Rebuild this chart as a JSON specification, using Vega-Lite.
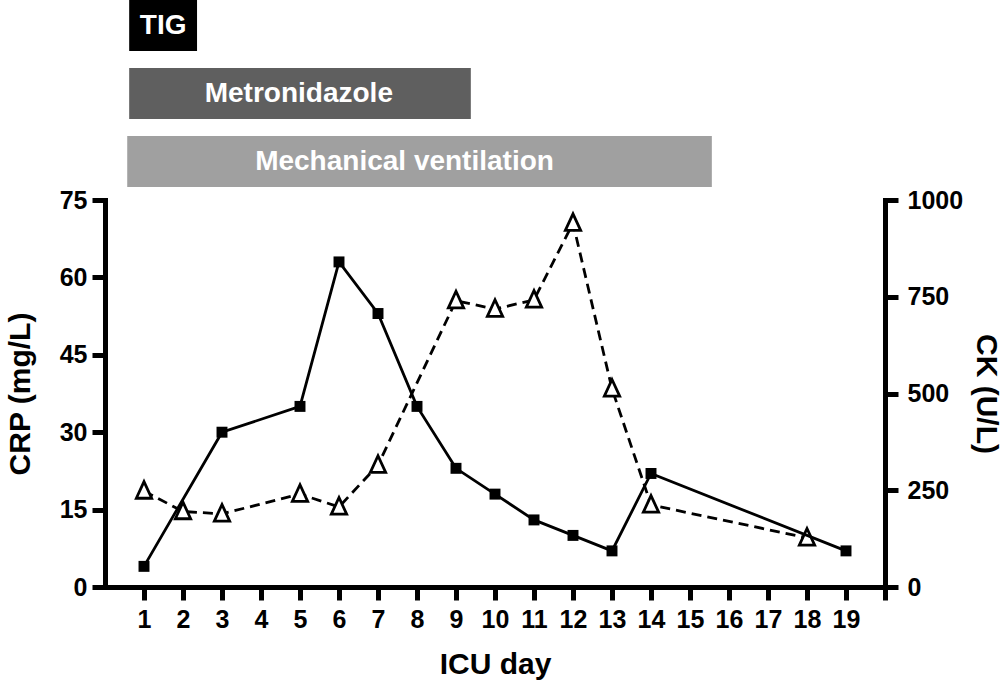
{
  "$schema": "https://vega.github.io/schema/vega-lite/v6.json",
  "background": "white",
  "padding": {"left": 5, "top": 0, "right": 2, "bottom": 2},
  "bounds": "flush",
  "spacing": 13,
  "config": {
    "font": "Liberation Sans",
    "view": {"stroke": null},
    "axis": {
      "grid": false,
      "domainColor": "black",
      "domainWidth": 5,
      "domainCap": "square",
      "tickColor": "black",
      "tickWidth": 5,
      "tickSize": 13,
      "labelFont": "Liberation Sans",
      "labelFontSize": 25,
      "labelFontWeight": "bold",
      "labelColor": "black",
      "titleFont": "Liberation Sans",
      "titleFontSize": 30,
      "titleFontWeight": "bold",
      "titleColor": "black"
    }
  },
  "datasets": {
    "bars": [
      {"treatment": "TIG", "start": 0.62, "end": 2.36, "label_at": 1.49},
      {"treatment": "Metronidazole", "start": 0.62, "end": 9.38, "label_at": 4.97},
      {"treatment": "Mechanical ventilation", "start": 0.57, "end": 15.56, "label_at": 7.68}
    ],
    "crp": [
      {"day": 1, "crp": 4},
      {"day": 3, "crp": 30},
      {"day": 5, "crp": 35},
      {"day": 6, "crp": 63},
      {"day": 7, "crp": 53},
      {"day": 8, "crp": 35},
      {"day": 9, "crp": 23},
      {"day": 10, "crp": 18},
      {"day": 11, "crp": 13},
      {"day": 12, "crp": 10},
      {"day": 13, "crp": 7},
      {"day": 14, "crp": 22},
      {"day": 19, "crp": 7}
    ],
    "ck": [
      {"day": 1, "ck": 248},
      {"day": 2, "ck": 195},
      {"day": 3, "ck": 189},
      {"day": 5, "ck": 240},
      {"day": 6, "ck": 207},
      {"day": 7, "ck": 315},
      {"day": 9, "ck": 740},
      {"day": 10, "ck": 718},
      {"day": 11, "ck": 742},
      {"day": 12, "ck": 940},
      {"day": 13, "ck": 512},
      {"day": 14, "ck": 212},
      {"day": 18, "ck": 127}
    ]
  },
  "vconcat": [
    {
      "width": 780,
      "height": 187,
      "data": {"name": "bars"},
      "layer": [
        {
          "mark": {"type": "bar"},
          "encoding": {
            "x": {"field": "start", "type": "quantitative", "scale": {"domain": [0, 20], "nice": false, "zero": false}, "axis": null},
            "x2": {"field": "end"},
            "y": {"field": "treatment", "type": "nominal", "sort": null,
                  "scale": {"domain": ["TIG", "Metronidazole", "Mechanical ventilation"], "paddingInner": 0.25, "paddingOuter": 0},
                  "axis": null},
            "color": {"field": "treatment", "type": "nominal",
                      "scale": {"domain": ["TIG", "Metronidazole", "Mechanical ventilation"], "range": ["#000000", "#5f5f5f", "#a0a0a0"]},
                      "legend": null}
          }
        },
        {
          "mark": {"type": "text", "color": "white", "fontSize": 28, "fontWeight": "bold", "font": "Liberation Sans", "align": "center", "baseline": "middle"},
          "encoding": {
            "x": {"field": "label_at", "type": "quantitative"},
            "y": {"field": "treatment", "type": "nominal"},
            "text": {"field": "treatment"}
          }
        }
      ]
    },
    {
      "width": 780,
      "height": 387,
      "layer": [
        {
          "data": {"name": "ck"},
          "encoding": {
            "x": {"field": "day", "type": "quantitative", "title": "ICU day",
                  "scale": {"domain": [0, 20], "nice": false, "zero": false},
                  "axis": {"values": [1,2,3,4,5,6,7,8,9,10,11,12,13,14,15,16,17,18,19,20],
                           "labelExpr": "datum.value == 20 ? '' : datum.label",
                           "labelPadding": 7, "titlePadding": 17, "labelOverlap": false, "labelFlush": false}},
            "y": {"field": "ck", "type": "quantitative", "title": "CK (U/L)",
                  "scale": {"domain": [0, 1000], "nice": false},
                  "axis": {"orient": "right", "values": [0, 250, 500, 750, 1000], "format": "d", "labelPadding": 9, "titlePadding": 8}}
          },
          "layer": [
            {"mark": {"type": "line", "color": "black", "strokeWidth": 2.8, "strokeDash": [10, 6]}},
            {"mark": {"type": "point", "shape": "M0,-1.1L-0.9,0.85L0.9,0.85Z", "size": 290, "fill": "white", "stroke": "black", "strokeWidth": 2.8, "opacity": 1, "filled": false}}
          ]
        },
        {
          "data": {"name": "crp"},
          "encoding": {
            "x": {"field": "day", "type": "quantitative"},
            "y": {"field": "crp", "type": "quantitative", "title": "CRP (mg/L)",
                  "scale": {"domain": [0, 75], "nice": false},
                  "axis": {"orient": "left", "values": [0, 15, 30, 45, 60, 75], "labelPadding": 5, "titlePadding": 24}}
          },
          "layer": [
            {"mark": {"type": "line", "color": "black", "strokeWidth": 2.8}},
            {"mark": {"type": "point", "shape": "square", "size": 120, "filled": true, "color": "black", "opacity": 1}}
          ]
        }
      ],
      "resolve": {"scale": {"y": "independent"}}
    }
  ]
}
